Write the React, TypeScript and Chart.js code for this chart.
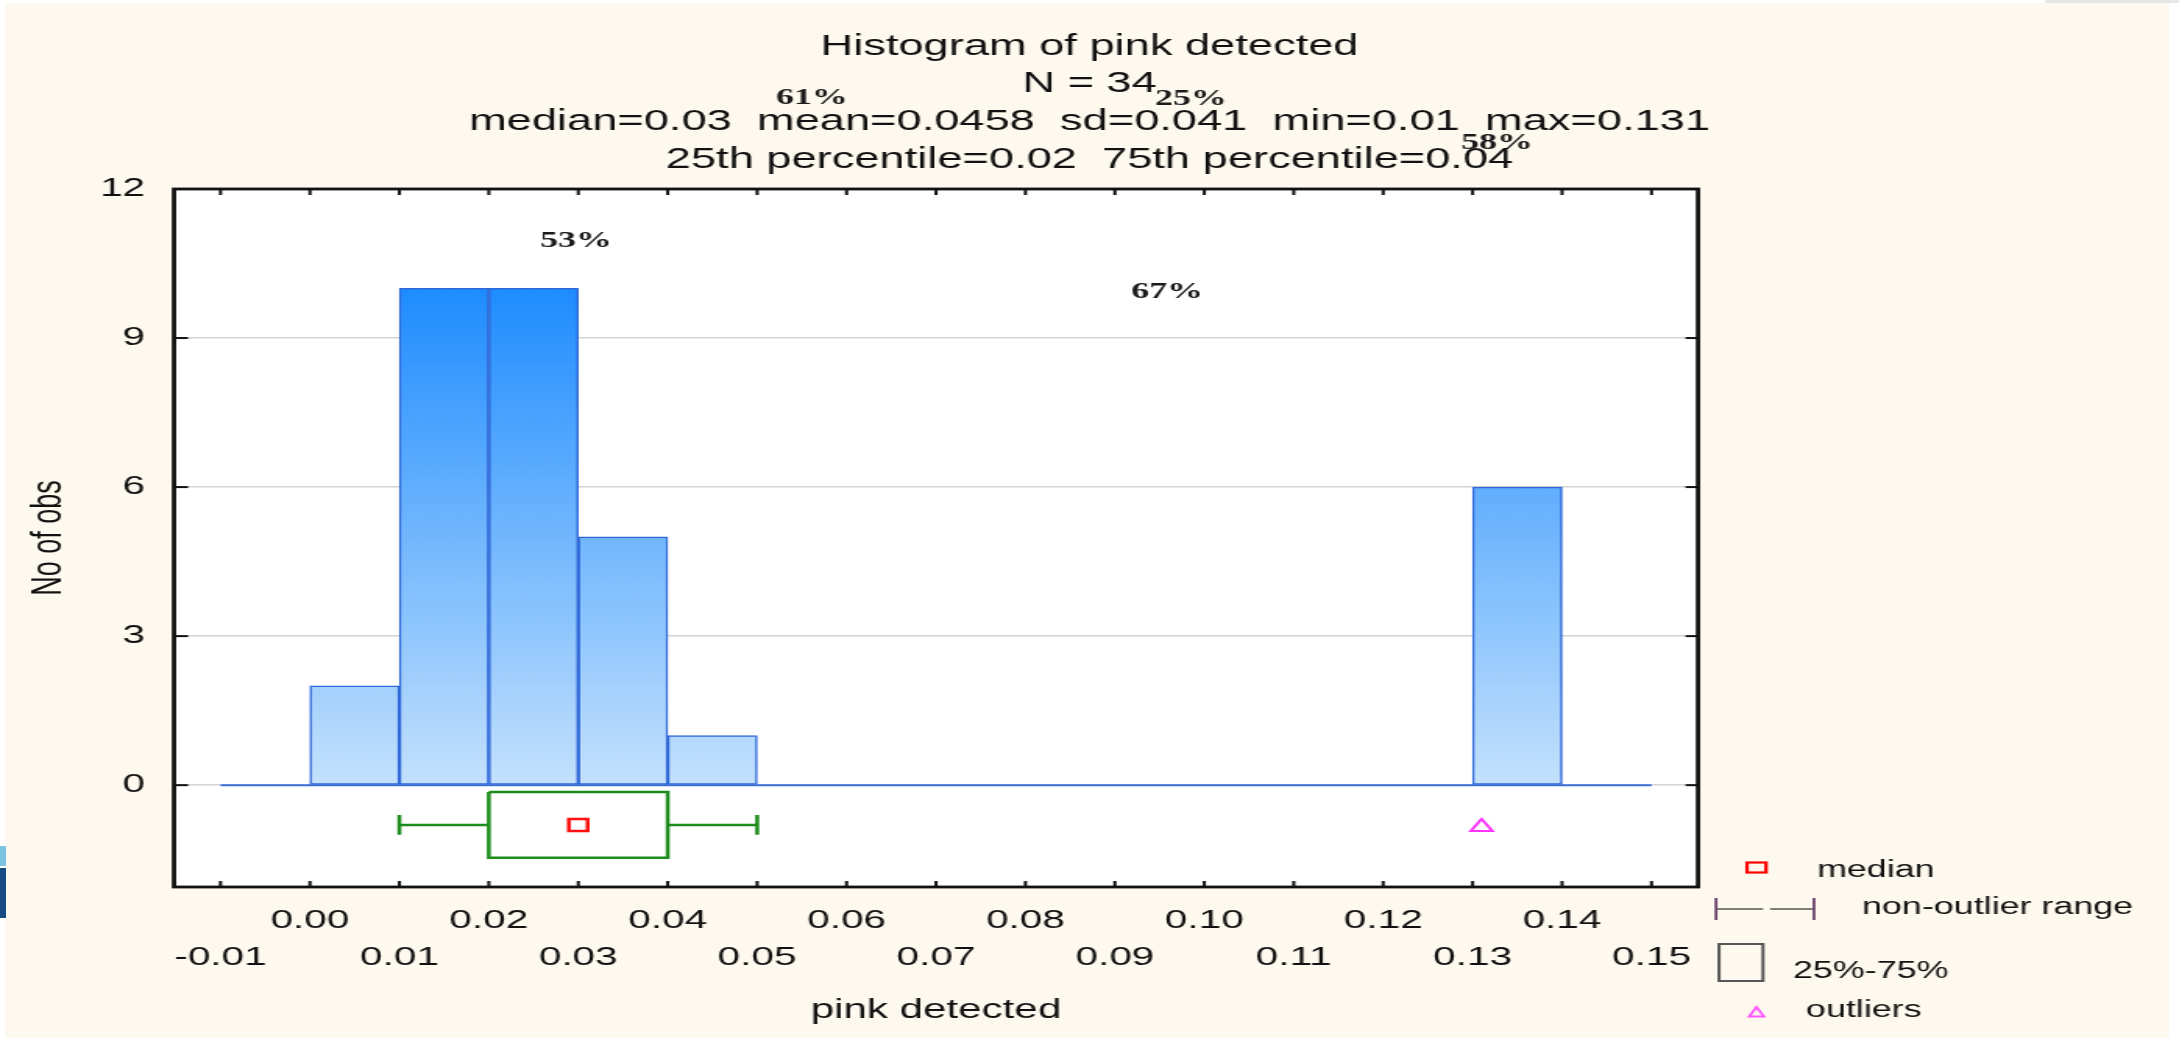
import React, { useEffect, useRef } from 'react';
import { Chart, registerables } from 'chart.js';

Chart.register(...registerables);

// ---------- data ----------
const TITLE_LINES = [
  'Histogram of pink detected',
  'N = 34',
  'median=0.03  mean=0.0458  sd=0.041  min=0.01  max=0.131',
  '25th percentile=0.02  75th percentile=0.04',
];
const X_LABEL = 'pink detected';
const Y_LABEL = 'No of obs';
const BIN_STARTS = [0.0, 0.01, 0.02, 0.03, 0.04, 0.13];
const BIN_COUNTS = [2, 10, 10, 5, 1, 6];
const BIN_WIDTH = 0.01;
const X_TICKS = [-0.01, 0.0, 0.01, 0.02, 0.03, 0.04, 0.05, 0.06, 0.07, 0.08, 0.09, 0.1, 0.11, 0.12, 0.13, 0.14, 0.15];
const Y_TICKS = [0, 3, 6, 9, 12];
const X_RANGE = [-0.0152, 0.1552];
const Y_RANGE = [-2.05, 12];
const BASELINE = [-0.01, 0.15];
const WHISKERS = [0.01, 0.05];
const QUARTILES = [0.02, 0.04];
const MEDIAN = 0.03;
const OUTLIERS = [0.131];
const STRAY_LABELS = ['61%', '25%', '58%', '53%', '67%'];
const LEGEND_LABELS = ['median', 'non-outlier range', '25%-75%', 'outliers'];

// ---------- layout (page pixels) ----------
const W = 2179;
const H = 1038;
const CW = 1397; // canvas drawing width, stretched horizontally to W by CSS
const K = W / CW;
const cx = (fx: number) => fx / K;
const PLOT = { left: 174, right: 1698, top: 189, bottom: 887 };
const BOX_ROW = { center: -0.8, top: -0.14, bottom: -1.46, cap: 0.2 };
const STRAY_POS = [
  [812, 98],
  [1191, 99],
  [1497, 143],
  [576, 241],
  [1167, 292],
];
const SANS = '"Liberation Sans", Arial, sans-serif';
const SERIF = '"Liberation Serif", "Times New Roman", serif';
const GREEN = '#1C8C1C';

function seg(points: { x: number; y: number }[], color: string, width: number) {
  return {
    type: 'line',
    data: points,
    borderColor: color,
    borderWidth: width,
    pointRadius: 0,
    fill: false,
    tension: 0,
    order: 1,
  };
}

const decorPlugin = {
  id: 'decor',
  beforeDraw(chart: any) {
    const { ctx, chartArea: a } = chart;
    ctx.save();
    ctx.fillStyle = '#ffffff';
    ctx.fillRect(a.left, a.top, a.right - a.left, a.bottom - a.top);
    ctx.restore();
  },
  afterDraw(chart: any) {
    const { ctx, chartArea: a } = chart;
    const xs = chart.scales.x;
    const ys = chart.scales.y;
    const line = (x1: number, y1: number, x2: number, y2: number) => {
      ctx.beginPath();
      ctx.moveTo(x1, y1);
      ctx.lineTo(x2, y2);
      ctx.stroke();
    };
    ctx.save();
    // inward tick marks
    ctx.strokeStyle = '#111';
    ctx.lineWidth = 2;
    X_TICKS.forEach((v) => {
      const px = xs.getPixelForValue(v);
      line(px, a.bottom, px, a.bottom - 6);
      line(px, a.top, px, a.top + 6);
    });
    Y_TICKS.forEach((v) => {
      const py = ys.getPixelForValue(v);
      line(a.left, py, a.left + 9, py);
      line(a.right, py, a.right - 8, py);
    });
    // frame
    ctx.lineWidth = 2.8;
    ctx.strokeRect(a.left, a.top, a.right - a.left, a.bottom - a.top);

    // stray percentage labels
    ctx.fillStyle = '#1a1a1a';
    ctx.font = `bold 23px ${SERIF}`;
    ctx.textAlign = 'center';
    ctx.textBaseline = 'middle';
    STRAY_LABELS.forEach((t, i) => {
      ctx.fillText(t, cx(STRAY_POS[i][0]), STRAY_POS[i][1]);
    });

    // legend
    ctx.strokeStyle = '#FF0000';
    ctx.lineWidth = 2.2;
    ctx.strokeRect(cx(1747), 862.5, cx(1766) - cx(1747), 10);
    ctx.strokeStyle = '#707070';
    ctx.lineWidth = 1.8;
    line(cx(1717), 909, cx(1763), 909);
    line(cx(1770), 909, cx(1813), 909);
    ctx.strokeStyle = '#6A3F6A';
    line(cx(1716), 898, cx(1716), 920);
    line(cx(1814), 898, cx(1814), 920);
    ctx.strokeStyle = '#555';
    ctx.lineWidth = 2;
    ctx.strokeRect(cx(1719), 944, cx(1763) - cx(1719), 37);
    ctx.strokeStyle = '#FF55FF';
    ctx.lineWidth = 1.8;
    const tx = cx(1756.5);
    ctx.beginPath();
    ctx.moveTo(tx, 1007);
    ctx.lineTo(tx - 4.8, 1016.5);
    ctx.lineTo(tx + 4.8, 1016.5);
    ctx.closePath();
    ctx.stroke();

    ctx.fillStyle = '#111';
    ctx.font = `23px ${SANS}`;
    ctx.textAlign = 'left';
    ctx.textBaseline = 'middle';
    ctx.fillText(LEGEND_LABELS[0], cx(1817), 871);
    ctx.fillText(LEGEND_LABELS[1], cx(1862), 908);
    ctx.fillText(LEGEND_LABELS[2], cx(1793), 972);
    ctx.fillText(LEGEND_LABELS[3], cx(1806), 1011);
    ctx.restore();
  },
};

export default function App() {
  const ref = useRef<HTMLCanvasElement | null>(null);

  useEffect(() => {
    const canvas = ref.current;
    if (!canvas) return;

    const barData = BIN_STARTS.map((s, i) => ({ x: s + BIN_WIDTH / 2, y: BIN_COUNTS[i] }));
    const bc = BOX_ROW;

    const chart = new Chart(canvas, {
      type: 'bar',
      data: {
        datasets: [
          {
            type: 'bar',
            data: barData,
            backgroundColor: (c: any) => {
              const ch = c.chart;
              if (!ch.chartArea) return '#7ab8fa';
              const y = ch.scales.y;
              const g = ch.ctx.createLinearGradient(0, y.getPixelForValue(10), 0, y.getPixelForValue(0));
              g.addColorStop(0, '#1E8CFF');
              g.addColorStop(1, '#C4E1FC');
              return g;
            },
            borderColor: '#2F68D8',
            borderWidth: 1.5,
            borderSkipped: false,
            barPercentage: 1,
            categoryPercentage: 1,
            order: 0,
          },
          seg([{ x: BASELINE[0], y: 0 }, { x: BASELINE[1], y: 0 }], '#3D6FD9', 2),
          seg([{ x: WHISKERS[0], y: bc.center }, { x: QUARTILES[0], y: bc.center }], GREEN, 2.5),
          seg([{ x: QUARTILES[1], y: bc.center }, { x: WHISKERS[1], y: bc.center }], GREEN, 2.5),
          seg([{ x: WHISKERS[0], y: bc.center - bc.cap }, { x: WHISKERS[0], y: bc.center + bc.cap }], GREEN, 2.5),
          seg([{ x: WHISKERS[1], y: bc.center - bc.cap }, { x: WHISKERS[1], y: bc.center + bc.cap }], GREEN, 2.5),
          seg(
            [
              { x: QUARTILES[0], y: bc.top },
              { x: QUARTILES[1], y: bc.top },
              { x: QUARTILES[1], y: bc.bottom },
              { x: QUARTILES[0], y: bc.bottom },
              { x: QUARTILES[0], y: bc.top },
            ],
            GREEN,
            2.5
          ),
          {
            type: 'scatter',
            data: [{ x: MEDIAN, y: bc.center }],
            showLine: false,
            pointStyle: 'rect',
            pointRadius: 8.5,
            pointBorderColor: '#FF1010',
            pointBackgroundColor: '#ffffff',
            pointBorderWidth: 2.5,
            order: 1,
          },
          {
            type: 'scatter',
            data: OUTLIERS.map((v) => ({ x: v, y: bc.center - 0.04 })),
            showLine: false,
            pointStyle: 'triangle',
            pointRadius: 8,
            pointBorderColor: '#FF33FF',
            pointBackgroundColor: 'rgba(255,255,255,0)',
            pointBorderWidth: 2,
            order: 1,
          },
        ],
      } as any,
      options: {
        animation: false,
        responsive: false,
        devicePixelRatio: 1,
        events: [],
        layout: { padding: { left: 0, right: 0, top: 0, bottom: 0 } },
        plugins: {
          legend: { display: false },
          tooltip: { enabled: false },
          title: {
            display: true,
            text: TITLE_LINES,
            color: '#111',
            font: { family: SANS, size: 29, weight: 'normal', lineHeight: 37.8 / 29 },
            padding: { top: 27.6, bottom: 10.2 },
          },
        },
        scales: {
          x: {
            type: 'linear',
            min: X_RANGE[0],
            max: X_RANGE[1],
            offset: false,
            afterBuildTicks: (s: any) => {
              s.ticks = X_TICKS.map((v) => ({ value: v }));
            },
            afterFit: (s: any) => {
              s.height = H - PLOT.bottom;
            },
            grid: { display: false, drawTicks: false, offset: false },
            border: { display: false },
            ticks: {
              autoSkip: false,
              maxRotation: 0,
              minRotation: 0,
              padding: 14.75,
              color: '#111',
              font: { family: SANS, size: 26, lineHeight: 1.44 },
              callback: (v: any, i: number) => {
                const t = Number(v).toFixed(2);
                return i % 2 === 0 ? ['', t] : [t, ''];
              },
            },
            title: {
              display: true,
              text: X_LABEL,
              color: '#111',
              font: { family: SANS, size: 27, lineHeight: 1.2 },
              padding: { top: 0, bottom: 10.8 },
            },
          },
          y: {
            type: 'linear',
            min: Y_RANGE[0],
            max: Y_RANGE[1],
            afterBuildTicks: (s: any) => {
              s.ticks = Y_TICKS.map((v) => ({ value: v }));
            },
            afterFit: (s: any) => {
              s.width = cx(PLOT.left);
            },
            grid: { color: '#D4D4D4', lineWidth: 1.5, drawTicks: false },
            border: { display: false },
            ticks: {
              padding: 18.5,
              color: '#111',
              font: { family: SANS, size: 26 },
              callback: (v: any) => String(v),
            },
            title: {
              display: true,
              text: Y_LABEL,
              color: '#111',
              font: { family: SANS, size: 27, lineHeight: 1.2 },
              padding: { top: 15.3, bottom: 0 },
            },
          },
          // empty right-hand area that holds the legend
          side: {
            type: 'linear',
            position: 'right',
            display: true,
            afterFit: (s: any) => {
              s.width = CW - cx(PLOT.right);
            },
            grid: { display: false, drawTicks: false },
            border: { display: false },
            ticks: { display: false },
            title: { display: false },
          },
        },
      } as any,
      plugins: [decorPlugin as any],
    });

    return () => {
      chart.destroy();
    };
  }, []);

  return (
    <div
      style={{
        position: 'fixed',
        left: 0,
        top: 0,
        width: W,
        height: H,
        background: '#ffffff',
        overflow: 'hidden',
      }}
    >
      <div style={{ position: 'absolute', left: 5, top: 3, width: 2164, height: H - 3, background: '#FEF9EE' }} />
      <div style={{ position: 'absolute', left: 2045, top: 0, width: W - 2045, height: 3, background: '#E6E6E6' }} />
      <div style={{ position: 'absolute', left: 0, top: 846, width: 6, height: 20, background: '#7CC3E0' }} />
      <div style={{ position: 'absolute', left: 0, top: 868, width: 6, height: 50, background: '#164B84' }} />
      <canvas
        ref={ref}
        width={CW}
        height={H}
        style={{ position: 'absolute', left: 0, top: 0, width: `${W}px`, height: `${H}px` }}
      />
    </div>
  );
}
